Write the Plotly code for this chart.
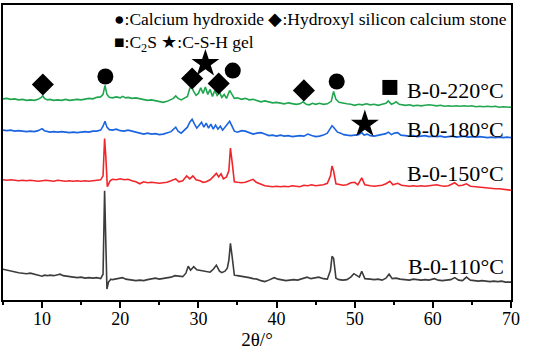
import plotly.graph_objects as go

# ---- data (2θ in degrees, intensity in a.u.) ----
x_220 = [5, 5.5, 6, 6.5, 7, 7.5, 8, 8.5, 9, 9.5, 9.9, 10.1, 10.3, 10.7, 11, 11.5, 12, 12.5, 13, 13.5, 14, 14.5, 15, 15.5, 16, 16.5, 17, 17.5, 17.8, 18.05, 18.3, 18.6, 19, 19.5, 20, 20.3, 20.7, 21, 21.5, 22, 22.5, 23, 23.5, 24, 24.5, 25, 25.5, 26, 26.5, 26.8, 27.1, 27.4, 27.8, 28.2, 28.6, 28.9, 29.1, 29.4, 29.7, 30, 30.3, 30.6, 30.9, 31.2, 31.5, 31.8, 32.1, 32.4, 32.7, 33, 33.3, 33.6, 34.0, 34.3, 34.6, 35, 35.5, 36, 36.5, 37, 37.5, 38, 38.5, 39, 39.5, 40, 40.5, 41, 41.5, 42, 42.5, 43, 43.4, 43.8, 44.2, 44.6, 45, 45.5, 46, 46.5, 47, 47.3, 47.6, 48, 48.5, 49, 49.5, 50, 50.5, 51, 51.5, 52, 52.5, 53, 53.5, 54, 54.3, 54.7, 55, 55.3, 55.7, 56, 56.5, 57, 57.5, 58, 58.5, 59, 59.5, 60, 60.5, 61, 61.5, 62, 62.5, 63, 63.5, 64, 64.5, 65, 65.5, 66, 66.5, 67, 67.5, 68, 68.5, 69, 69.5, 70]
y_220 = [202.5, 203, 202, 202.5, 201.5, 202, 201, 201.5, 201, 202, 204, 205.5, 203, 201.5, 202, 201, 201.5, 201, 202, 201, 201.5, 202, 201.5, 202.5, 203, 202.5, 204, 204.5, 207, 216, 207, 204, 203.5, 204.5, 203.5, 205, 203.5, 204, 203, 203.5, 202.5, 202, 201, 201.5, 200.5, 199.5, 199, 200, 201.5, 203, 205.5, 203, 201.5, 203, 205, 213, 215, 210, 206, 208, 213.5, 208, 214.5, 207, 212, 205, 211, 206, 209, 204, 207, 203, 211, 207, 203, 203.5, 202, 203, 201.5, 202, 201, 199.5, 200.5, 199.5, 198.5, 199, 198, 197.5, 198.5, 197.5, 197, 197.5, 199.5, 197, 196.5, 198, 197, 198, 197, 197.5, 200, 210, 202, 199, 198, 197.5, 197, 196, 197, 196.5, 197.5, 196.5, 197, 196, 197, 198, 200.5, 197, 198, 199.5, 197, 196.5, 196, 196.5, 195.5, 196, 195.5, 196, 196.5, 196, 195.5, 196, 195, 195.5, 195, 195.5, 195, 195.5, 195, 195.5, 194.5, 195, 194.5, 195, 194.5, 195, 194, 194.5, 194, 194]

x_180 = [5, 5.5, 6, 6.5, 7, 7.5, 8, 8.5, 9, 9.5, 10, 10.3, 10.7, 11, 11.5, 12, 12.5, 13, 13.5, 14, 14.5, 15, 15.5, 16, 16.5, 17, 17.5, 17.8, 18.05, 18.3, 18.6, 19, 19.5, 20, 20.5, 21, 21.5, 22, 22.5, 23, 23.5, 24, 24.5, 25, 25.5, 26, 26.5, 27.1, 27.4, 27.8, 28.2, 28.6, 28.9, 29.2, 29.5, 29.8, 30.1, 30.4, 30.7, 31, 31.3, 31.6, 31.9, 32.2, 32.5, 32.8, 33.1, 33.4, 33.7, 34.0, 34.3, 34.6, 35, 35.5, 36, 36.5, 37, 37.5, 38, 38.5, 39, 39.5, 40, 40.5, 41, 41.5, 42, 42.5, 43, 43.5, 44, 44.5, 45, 45.5, 46, 46.5, 46.9, 47.1, 47.4, 47.8, 48.2, 48.6, 49, 49.5, 50, 50.5, 50.9, 51.2, 51.6, 52, 52.5, 53, 53.5, 54, 54.3, 54.7, 55.1, 55.5, 55.9, 56.5, 57, 57.5, 58, 58.5, 59, 59.5, 60, 60.5, 61, 61.5, 62, 62.5, 63, 63.5, 64, 64.5, 65, 65.5, 66, 66.5, 67, 67.5, 68, 68.5, 69, 69.5, 70]
y_180 = [171, 170.5, 171, 170, 170.5, 170, 169.5, 170, 169.5, 170.5, 172.5, 170.5, 169.5, 169, 169.5, 169, 169.5, 169, 168.5, 169, 168.5, 169, 169.5, 169, 170, 170, 171, 175, 180, 174, 171.5, 171, 172, 170.5, 170, 171, 170, 169, 168, 167, 168, 167, 167.5, 166.5, 167, 168, 169.5, 174, 170, 168, 171, 174, 179, 182, 177, 173, 176, 179, 174, 178, 173, 177, 172, 176, 172, 175, 171, 174, 176, 180, 175, 170, 169, 170.5, 170, 168.5, 167, 168, 168.5, 167, 165.5, 166, 165, 166, 165, 165.5, 164.5, 165, 165.5, 165, 167, 165.5, 164.5, 165, 166, 168, 173, 175.5, 173, 169, 168, 166.5, 166, 165.5, 166, 166.5, 168.5, 166, 167, 165.5, 165, 166, 167, 167.5, 169, 166.5, 168, 168.5, 166, 165.5, 165, 165.5, 164.5, 165, 165.5, 164.5, 165, 164.5, 165, 164, 164.5, 165, 164, 164.5, 165, 164, 164.5, 164, 164.5, 164, 163.5, 164, 163.5, 164, 163.5, 164, 163.5]

x_150 = [5, 5.5, 6, 6.5, 7, 7.5, 8, 8.5, 9, 9.5, 10, 10.5, 11, 11.5, 12, 12.5, 13, 13.5, 14, 14.5, 15, 15.5, 16, 16.5, 17, 17.5, 17.8, 17.9, 18.0, 18.15, 18.35, 18.7, 19, 19.5, 20, 20.5, 21, 21.5, 22, 22.5, 23, 23.5, 24, 24.5, 25, 25.5, 26, 26.5, 27.1, 27.5, 28, 28.5, 28.9, 29.3, 29.7, 30.2, 30.6, 31, 31.5, 32, 32.3, 32.6, 32.9, 33.2, 33.6, 33.9, 34.1, 34.3, 34.6, 35, 35.5, 36, 36.5, 37, 37.4, 38, 38.5, 39, 39.5, 40, 40.5, 41, 41.5, 42, 42.5, 43, 43.5, 44, 44.5, 45, 45.5, 46, 46.5, 46.9, 47.1, 47.3, 47.6, 48, 48.5, 49, 49.5, 50, 50.4, 50.9, 51.3, 52, 52.5, 53, 53.5, 54, 54.5, 54.9, 55.5, 56, 56.5, 57, 57.5, 58, 58.5, 59, 59.5, 60, 60.5, 61, 61.5, 62, 62.8, 63.3, 63.8, 64.3, 64.8, 65.5, 66, 66.5, 67, 67.5, 68, 68.5, 69, 69.5, 70]
y_150 = [121, 120.5, 121, 120.5, 120, 120.5, 120, 120.5, 120, 119.5, 120, 120.5, 120, 119.5, 120.5, 120, 119.5, 120, 119.5, 120, 119.5, 120, 119.5, 120, 120.5, 121, 125, 140, 162.5, 145, 114, 120, 121.5, 121, 122, 121, 121.5, 120, 119, 117, 119, 118, 118.5, 118, 117.5, 118, 118.5, 120, 122, 119, 120, 125, 122, 125, 121, 120, 118.5, 119, 121, 125, 127.5, 124, 127, 122, 124, 130, 153, 140, 119, 118.5, 118, 118.5, 120, 121.5, 118.5, 116.5, 115, 114.5, 114, 114.5, 114, 114.5, 114, 115, 114.5, 114, 115.5, 115, 116, 115, 115.5, 116, 117.5, 125, 135, 130, 117, 116, 115.5, 116, 118, 118.5, 116, 123, 116, 115, 114.5, 115, 115.5, 117, 119.5, 116, 117.5, 115.5, 115, 114.5, 115, 114.5, 115, 114.5, 115, 115.5, 116, 115, 114.5, 115, 118, 115, 115.5, 117, 114.5, 114, 113.5, 113.5, 113, 112.5, 112, 112, 111.5, 111, 110.5]

x_110 = [5, 5.5, 6, 6.5, 7, 7.5, 8, 8.5, 9, 9.5, 10, 10.3, 10.7, 11, 11.5, 12, 12.3, 12.7, 13, 13.5, 14, 14.5, 15, 15.5, 16, 16.5, 17, 17.5, 17.8, 18.0, 18.15, 18.3, 18.5, 18.8, 19, 19.5, 20, 20.3, 20.7, 21, 21.5, 22, 22.5, 23, 23.5, 24, 24.5, 25, 25.5, 26, 26.5, 27, 27.5, 28, 28.4, 28.7, 29, 29.4, 29.8, 30.2, 30.6, 31, 31.5, 31.9, 32.3, 32.7, 33, 33.4, 33.7, 33.9, 34.1, 34.3, 34.6, 35, 35.5, 36, 36.5, 37, 37.5, 38, 38.5, 39, 39.7, 40.2, 40.7, 41.2, 41.7, 42.2, 42.7, 43.2, 43.9, 44.4, 45, 45.4, 46, 46.5, 46.9, 47.1, 47.3, 47.6, 48, 48.5, 49, 49.5, 49.9, 50.3, 50.6, 50.9, 51.3, 52, 52.5, 53, 53.5, 54, 54.4, 54.8, 55.3, 55.8, 56.5, 57, 57.5, 58, 58.5, 59, 59.5, 60.2, 60.7, 61.2, 61.7, 62.3, 62.8, 63.3, 63.8, 64.3, 64.8, 65.3, 65.8, 66.3, 66.8, 67.3, 67.8, 68.3, 68.8, 69.3, 70]
y_110 = [31, 30, 29, 28, 27.5, 27, 26.5, 27, 26, 25.5, 24, 25, 24.5, 25, 24.5, 25.5, 26, 24.5, 24, 23.5, 23, 22.5, 23, 22, 22.5, 22, 22.5, 21.5, 26, 110, 60, 11, 18, 21, 20.5, 21, 21.5, 22.5, 21, 20.5, 20, 19.5, 20, 19.5, 20.5, 21, 22, 21, 21.5, 22, 23, 24.5, 24, 23.5, 27, 34, 30, 33.5, 30.5, 30, 29, 28.5, 28, 31, 35, 29, 27.5, 29, 32, 40, 57, 45, 25, 24.5, 24, 23, 22.5, 21.5, 21, 19.5, 18.5, 20, 22.5, 21, 20, 19.5, 20, 20.5, 20, 21, 23, 21.5, 22.5, 23, 21.5, 21, 30, 44, 42, 22, 20.5, 20, 20.5, 23, 26.5, 24, 23, 29, 21.5, 21, 20.5, 21, 20, 22, 26, 21.5, 22, 21, 20.5, 20, 21, 20.5, 20, 20.5, 20, 21.5, 20, 19.5, 20, 20.5, 22.5, 20, 19.5, 23, 20, 19.5, 19, 19.5, 19, 18.5, 19, 18.5, 19, 18, 18]

# phase markers (2θ, height)
circle_x = [18.1, 34.4, 47.7]
circle_y = [225, 231, 220]
diamond_x = [10.1, 29.2, 32.6, 43.5]
diamond_y = [217, 223, 218, 211]
square_x = [54.5]
square_y = [214]
star_x = [30.9, 51.3]
star_y = [238, 177]

series_names = ["B-0-110°C", "B-0-150°C", "B-0-180°C", "B-0-220°C"]
label_y = [34, 127, 172, 211]
colors = ["#3c3c3c", "#f0262a", "#1a64e0", "#20a64e"]

FONT = "Liberation Serif, serif"

fig = go.Figure()
for xs, ys, c in [(x_110, y_110, colors[0]), (x_150, y_150, colors[1]),
                  (x_180, y_180, colors[2]), (x_220, y_220, colors[3])]:
    fig.add_trace(go.Scatter(x=xs, y=ys, mode="lines",
                             line=dict(color=c, width=1.6), showlegend=False))

for mx, my, sym, sz in [(circle_x, circle_y, "circle", 16),
                        (diamond_x, diamond_y, "diamond", 17),
                        (square_x, square_y, "square", 15),
                        (star_x, star_y, "star", 21)]:
    fig.add_trace(go.Scatter(x=mx, y=my, mode="markers",
                             marker=dict(symbol=sym, size=sz, color="black",
                                         line=dict(width=0)),
                             showlegend=False))

for name, ly in zip(series_names, label_y):
    fig.add_annotation(x=69.3, y=ly, text=name, showarrow=False,
                       xanchor="right", yanchor="middle",
                       font=dict(family=FONT, size=22, color="black"))

fig.add_annotation(x=19.0, y=283, text="●:Calcium hydroxide ◆:Hydroxyl silicon calcium stone",
                   showarrow=False, xanchor="left", yanchor="middle",
                   font=dict(family=FONT, size=17.5, color="black"))
fig.add_annotation(x=19.0, y=258, text="■:C<sub>2</sub>S ★:C-S-H gel",
                   showarrow=False, xanchor="left", yanchor="middle",
                   font=dict(family=FONT, size=17.5, color="black"))

fig.update_layout(
    width=533, height=351,
    margin=dict(l=3, r=22, t=3, b=51),
    paper_bgcolor="white", plot_bgcolor="white",
    font=dict(family=FONT, size=17, color="black"),
)
fig.update_xaxes(range=[5, 70], tick0=10, dtick=10, ticks="outside", ticklen=6,
                 tickwidth=1.5, tickcolor="black", ticklabelstandoff=-4,
                 minor=dict(ticks="outside", ticklen=3, dtick=5, tickcolor="black", tickwidth=1.5),
                 showline=True, linewidth=1.5, linecolor="black", mirror=True,
                 showgrid=False, zeroline=False,
                 tickfont=dict(family=FONT, size=18, color="black"),
                 title=dict(text="2θ/°", font=dict(family=FONT, size=19, color="black"), standoff=3))
fig.update_yaxes(range=[0, 297], showticklabels=False, ticks="",
                 showline=True, linewidth=1.5, linecolor="black", mirror=True,
                 showgrid=False, zeroline=False)

fig.write_html("out.html", config={"displayModeBar": False},
               post_script="document.body.style.margin='0';document.body.style.overflow='hidden';")
